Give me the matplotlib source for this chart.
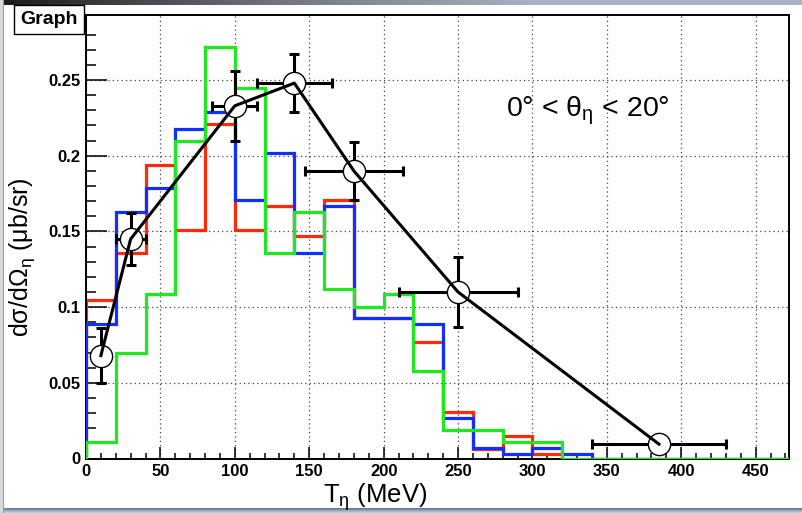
import numpy as np
import matplotlib
matplotlib.use('Agg')
import matplotlib.pyplot as plt
from matplotlib.patches import Rectangle

plt.rcParams['font.family'] = ['Liberation Sans', 'DejaVu Sans']
plt.rcParams['mathtext.fontset'] = 'custom'
plt.rcParams['mathtext.rm'] = 'Liberation Sans'
plt.rcParams['mathtext.it'] = 'Liberation Sans:italic'
plt.rcParams['mathtext.bf'] = 'Liberation Sans:bold'

# histogram bins (MeV) and the three simulated spectra
edges = np.arange(0, 500, 20)
red = [0.105, 0.136, 0.194, 0.151, 0.221, 0.151, 0.167, 0.147, 0.171, 0.093,
       0.093, 0.077, 0.031, 0.006, 0.015, 0.003, 0.0, 0.0, 0.0, 0.0,
       0.0, 0.0, 0.0, 0.0]
blue = [0.089, 0.163, 0.179, 0.218, 0.229, 0.171, 0.202, 0.136, 0.167, 0.093,
        0.093, 0.089, 0.027, 0.007, 0.003, 0.007, 0.003, 0.0, 0.0, 0.0,
        0.0, 0.0, 0.0, 0.0]
green = [0.011, 0.070, 0.109, 0.210, 0.272, 0.245, 0.136, 0.163, 0.112, 0.100,
         0.109, 0.058, 0.019, 0.019, 0.011, 0.011, 0.0, 0.0, 0.0, 0.0,
         0.0, 0.0, 0.0, 0.0]

# measured points
gx = [10, 30, 100, 140, 180, 250, 385]
gy = [0.068, 0.145, 0.233, 0.248, 0.190, 0.110, 0.0095]
gxerr = [5, 10, 15, 25, 33, 40, 45]
gyerr = [0.018, 0.017, 0.023, 0.019, 0.019, 0.023, 0.003]

xticks = [0, 50, 100, 150, 200, 250, 300, 350, 400, 450]
yticks = [0, 0.05, 0.1, 0.15, 0.2, 0.25]
ytick_labels = ['0', '0.05', '0.1', '0.15', '0.2', '0.25']

W, H = 802, 513
fig = plt.figure(figsize=(W / 100, H / 100), dpi=100)
fig.patch.set_facecolor('white')

ax = fig.add_axes([86 / W, (H - 458.5) / H, (789 - 86) / W, (458.5 - 15) / H])
ax.set_xlim(0, 472.4)
ax.set_ylim(0, 0.293)

ax.grid(True, which='major', color='#444444', linestyle=(0, (1, 2.5)), linewidth=0.9)
ax.set_axisbelow(True)

ax.stairs(red, edges, color='#ff2a0a', linewidth=2.3, zorder=2)
ax.stairs(blue, edges, color='#1030ff', linewidth=2.3, zorder=3)
ax.stairs(green, edges, color='#1ee81e', linewidth=2.3, zorder=4)

ax.errorbar(gx, gy, xerr=gxerr, yerr=gyerr, fmt='none', ecolor='black',
            elinewidth=2.2, capsize=3.5, capthick=2.2, zorder=5)
ax.plot(gx, gy, 'o', markersize=16, markerfacecolor='white',
        markeredgecolor='black', markeredgewidth=1.0, zorder=6)
ax.plot(gx, gy, '-', color='black', linewidth=2.2, zorder=7)

ax.set_xticks(xticks)
ax.set_xticks(np.arange(0, 480, 10), minor=True)
ax.set_yticks(yticks)
ax.set_yticklabels(ytick_labels)
ax.set_yticks(np.arange(0, 0.29, 0.01), minor=True)
ax.tick_params(axis='both', which='both', direction='in', top=False, right=False,
               width=1.1, colors='black')
ax.tick_params(axis='x', which='major', length=9, pad=4)
ax.tick_params(axis='x', which='minor', length=4.5)
ax.tick_params(axis='y', which='major', length=15, pad=4)
ax.tick_params(axis='y', which='minor', length=7.5)
for lab in ax.get_xticklabels() + ax.get_yticklabels():
    lab.set_fontweight('bold')
    lab.set_fontsize(12)
for sp in ax.spines.values():
    sp.set_linewidth(1.4)

ax.text(0.714, 0.784, '0° < θ$_\\mathrm{η}$ < 20°', transform=ax.transAxes,
        ha='center', va='center', fontsize=20.5)

fig.text(375 / W, 1 - 497 / H, 'T$_\\mathrm{η}$ (MeV)', ha='center', va='center', fontsize=18.5)
fig.text(22 / W, 1 - 257 / H, 'dσ/dΩ$_\\mathrm{η}$ (μb/sr)', ha='center', va='center',
         rotation=90, fontsize=18)

fig.text(49 / W, 1 - 19.5 / H, 'Graph', ha='center', va='center', fontsize=14,
         fontweight='bold',
         bbox=dict(boxstyle='square,pad=0.33', facecolor='white', edgecolor='black', linewidth=1))

# window frame
top = fig.add_axes([0, 1 - 5 / H, 1, 5 / H])
grad = np.linspace(0, 1, 256).reshape(1, -1)
top.imshow(grad, aspect='auto', cmap=matplotlib.colors.LinearSegmentedColormap.from_list(
    'tb', ['#1a1a1a', '#6d737b', '#a6b3c3', '#a6b3c3']), extent=[0, 1, 0, 1])
top.axis('off')
bot = fig.add_axes([0, 0, 1, 5 / H])
bot.imshow(np.linspace(0, 1, 8).reshape(-1, 1), aspect='auto',
           cmap=matplotlib.colors.LinearSegmentedColormap.from_list('bb', ['#5b7797', '#c9d2dc']),
           extent=[0, 1, 0, 1])
bot.axis('off')
fig.add_artist(Rectangle((0, 0), 3 / W, 1, transform=fig.transFigure,
                         facecolor='#d8d8d8', edgecolor='none'))
fig.add_artist(Rectangle((3 / W, 0), 1 / W, 1, transform=fig.transFigure,
                         facecolor='#9a9a9a', edgecolor='none'))

fig.savefig('out.png', dpi=100)
